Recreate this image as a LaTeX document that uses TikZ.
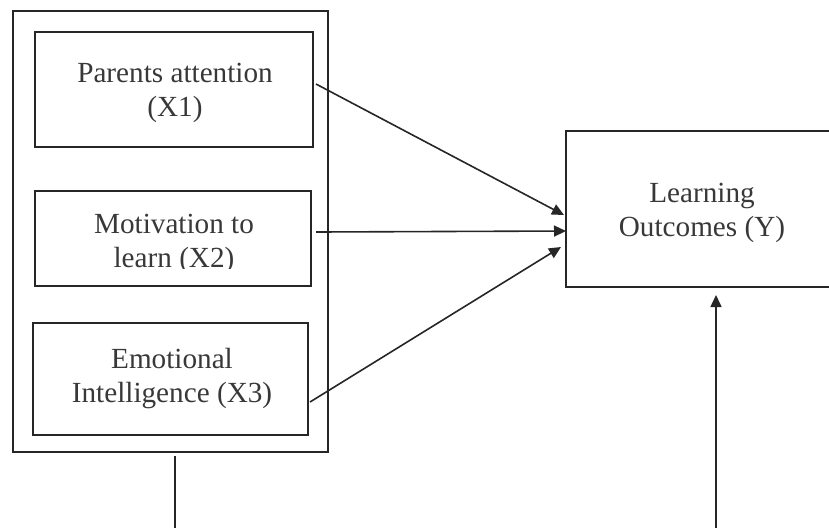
\documentclass[tikz,border=0pt]{standalone}
\usepackage{fontspec}
\setmainfont{Liberation Serif}
\usetikzlibrary{arrows.meta}
\begin{document}
\begin{tikzpicture}[x=0.5pt,y=-0.5pt,
  box/.style={draw=black!85, line width=0.8pt, rectangle, inner sep=0pt},
  lbl/.style={text=black!78, align=center, inner sep=0pt, font=\fontsize{14.6}{17}\selectfont},
  conn/.style={draw=black!85, line width=0.8pt, -{Triangle[length=6pt,width=5.5pt]}},
  plain/.style={draw=black!85, line width=0.8pt}]
\useasboundingbox (0,0) rectangle (829,527);
\clip (0,0) rectangle (829,527);
% boxes
\node[box, minimum width=157.5pt, minimum height=220.5pt] (outer) at (170.5,231.5) {};
\node[box, minimum width=139pt, minimum height=57.5pt] (b1) at (174,89.5) {};
\node[box, minimum width=138pt, minimum height=47.5pt] (b2) at (173,238.5) {};
\node[box, minimum width=137.5pt, minimum height=56pt] (b3) at (170.5,379) {};
\node[box, minimum width=136pt, minimum height=78pt] (lo) at (702,209) {};
% labels
\node[lbl] (t1) at (175,93) {Parents attention\\(X1)};
\begin{scope}
\clip (36,192) rectangle (310,268.3);
\node[lbl] (t2) at (174,244) {Motivation to\\learn (X2)};
\end{scope}
\node[lbl] (t3) at (172,379) {Emotional\\Intelligence (X3)};
\node[lbl] (t4) at (702,213) {Learning\\Outcomes (Y)};
% connector end points
\coordinate (a1s) at (316,84);
\coordinate (a1e) at (564,215);
\coordinate (a2s) at (316,232);
\coordinate (a2e) at (566,231);
\coordinate (a3s) at (310,402);
\coordinate (a3e) at (561,247);
\coordinate (vls) at (175,456);
\coordinate (vle) at (175,530);
\coordinate (vrs) at (716,530);
\coordinate (vre) at (716,295);
% connectors
\draw[conn] (a1s) -- (a1e);
\draw[conn] (a2s) -- (a2e);
\draw[conn] (a3s) -- (a3e);
\draw[plain] (vls) -- (vle);
\draw[conn] (vrs) -- (vre);
\end{tikzpicture}
\end{document}
